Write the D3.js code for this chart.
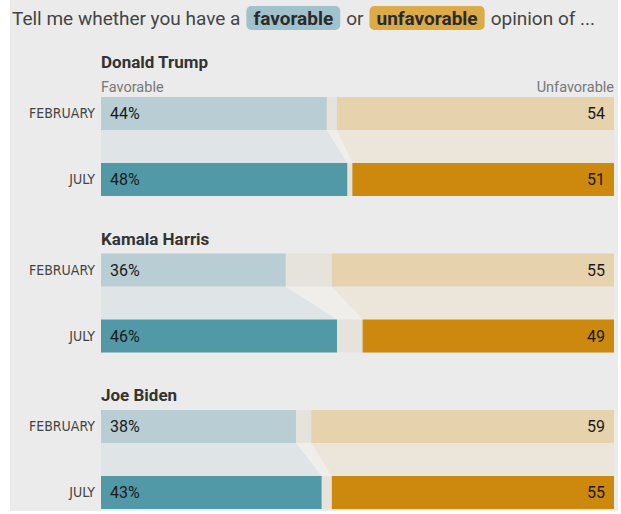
<!DOCTYPE html>
<html>
<head>
<meta charset="utf-8">
<script src="https://cdn.jsdelivr.net/npm/d3@7"></script>
<style>
  html, body { margin: 0; padding: 0; background: #ffffff; }
  svg { display: block; }
</style>
</head>
<body>
<svg id="chart" width="621" height="514"></svg>
<script>
// Poll data: share with a favorable / unfavorable opinion, by candidate and month
const candidates = ["Donald Trump", "Kamala Harris", "Joe Biden"];
const periods = ["FEBRUARY", "JULY"];
const favorable = [[44, 48], [36, 46], [38, 43]];
const unfavorable = [[54, 51], [55, 49], [59, 55]];
const headerParts = ["Tell me whether you have a", "favorable", "or", "unfavorable", "opinion of ..."];

const svg = d3.select("#chart");
const bodyFont = "Roboto, 'Liberation Sans', Arial, sans-serif";
const narrowFont = "'Liberation Sans Narrow', 'DejaVu Sans Condensed', Roboto, sans-serif";

const colors = {
  panel: "#ebebeb",
  favOld: "#b9cdd5",
  favNew: "#5299a8",
  unfOld: "#e6d3ae",
  unfNew: "#cc890d",
  gap: "#e6e3dc",
  favLink: "#dfe4e7",
  unfLink: "#ece5da",
  midLink: "#efeeea",
  pillFav: "#9fc2cc",
  pillUnf: "#dcaa46"
};

svg.append("rect").attr("x", 10).attr("y", 0).attr("width", 608).attr("height", 511)
  .attr("fill", colors.panel);

// Header sentence with highlighted keywords
const header = svg.append("g");
let cx = 12;
const headerY = 25;
headerParts.forEach((part, i) => {
  const pill = i === 1 || i === 3;
  const t = header.append("text")
    .attr("y", headerY)
    .attr("font-family", bodyFont)
    .attr("font-size", 19)
    .attr("font-weight", pill ? 700 : 400)
    .attr("fill", pill ? "#2b2b2b" : "#444")
    .text(part);
  const w = t.node().getComputedTextLength();
  if (pill) {
    const pad = 7;
    header.insert("rect", "text")
      .attr("x", cx).attr("y", 6).attr("width", w + pad * 2).attr("height", 24)
      .attr("rx", 5).attr("fill", i === 1 ? colors.pillFav : colors.pillUnf);
    t.attr("x", cx + pad);
    cx += w + pad * 2 + 6;
  } else {
    t.attr("x", cx);
    cx += w + 6;
  }
});

// Scales
const x = d3.scaleLinear().domain([0, 100]).range([101, 614]);
const groupY = d3.scalePoint().domain(candidates).range([97, 410]);
const rowY = d3.scalePoint().domain(periods).range([0, 66]);
const barH = 33;

candidates.forEach((name, ci) => {
  const g = svg.append("g").attr("transform", `translate(0,${groupY(name)})`);
  const fav = favorable[ci], unf = unfavorable[ci];

  // Title and column labels
  const titleY = ci === 0 ? -29 : -9;
  g.append("text")
    .attr("x", x(0)).attr("y", titleY)
    .attr("font-family", bodyFont).attr("font-size", 17).attr("font-weight", 700)
    .attr("fill", "#333").text(name);
  if (ci === 0) {
    g.append("text").attr("x", x(0)).attr("y", -5)
      .attr("font-family", bodyFont).attr("font-size", 14.5).attr("fill", "#777")
      .text("Favorable");
    g.append("text").attr("x", x(100)).attr("y", -5).attr("text-anchor", "end")
      .attr("font-family", bodyFont).attr("font-size", 14.5).attr("fill", "#777")
      .text("Unfavorable");
  }

  // Connector between the two survey rows
  const y0 = rowY(periods[0]) + barH, y1 = rowY(periods[1]);
  g.append("rect").attr("x", x(0)).attr("y", y0).attr("width", x(100) - x(0)).attr("height", y1 - y0)
    .attr("fill", colors.midLink);
  g.append("path")
    .attr("d", d3.line()([[x(0), y0], [x(fav[0]), y0], [x(fav[1]), y1], [x(0), y1]]) + "Z")
    .attr("fill", colors.favLink);
  g.append("path")
    .attr("d", d3.line()([[x(100 - unf[0]), y0], [x(100), y0], [x(100), y1], [x(100 - unf[1]), y1]]) + "Z")
    .attr("fill", colors.unfLink);

  periods.forEach((p, pi) => {
    const ry = rowY(p);
    const isNew = pi === 1;
    g.append("rect").attr("x", x(0)).attr("y", ry).attr("width", x(100) - x(0)).attr("height", barH)
      .attr("fill", colors.gap);
    g.append("rect").attr("x", x(0)).attr("y", ry).attr("width", x(fav[pi]) - x(0)).attr("height", barH)
      .attr("fill", isNew ? colors.favNew : colors.favOld);
    g.append("rect").attr("x", x(100 - unf[pi])).attr("y", ry)
      .attr("width", x(100) - x(100 - unf[pi])).attr("height", barH)
      .attr("fill", isNew ? colors.unfNew : colors.unfOld);

    g.append("text").attr("x", 95).attr("y", ry + barH / 2).attr("dy", "0.35em")
      .attr("text-anchor", "end").attr("font-family", narrowFont).attr("font-size", 14)
      .attr("fill", "#444").text(p);
    g.append("text").attr("x", x(0) + 9).attr("y", ry + barH / 2).attr("dy", "0.36em")
      .attr("font-family", bodyFont).attr("font-size", 16).attr("fill", "#1a1a1a")
      .text(fav[pi] + "%");
    g.append("text").attr("x", x(100) - 9).attr("y", ry + barH / 2).attr("dy", "0.36em")
      .attr("text-anchor", "end").attr("font-family", bodyFont).attr("font-size", 16)
      .attr("fill", "#1a1a1a").text(unf[pi]);
  });
});
</script>
</body>
</html>
